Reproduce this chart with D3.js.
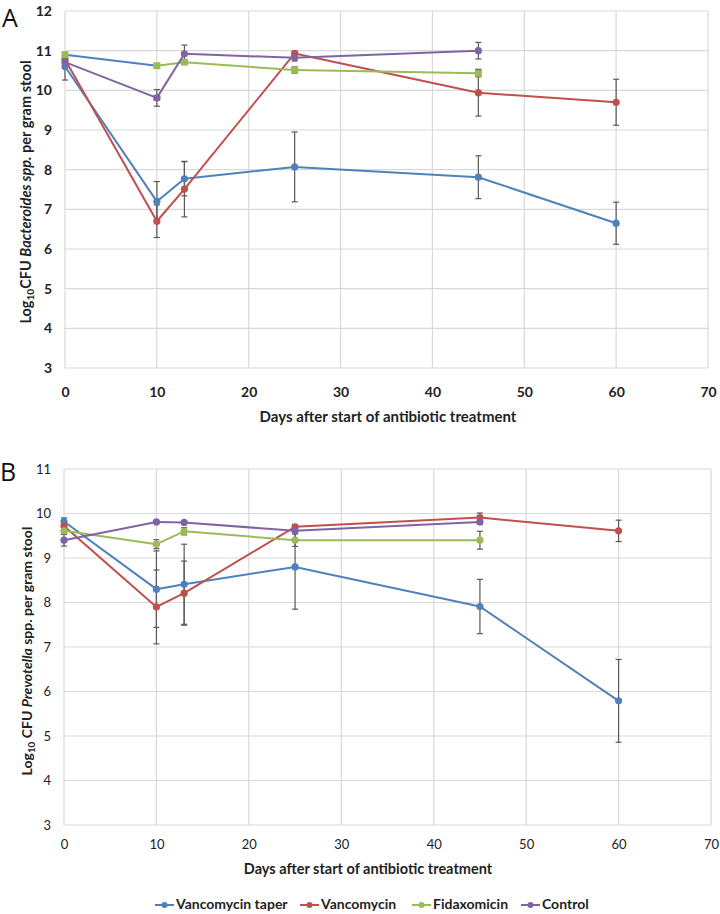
<!DOCTYPE html>
<html><head><meta charset="utf-8">
<script src="https://cdn.jsdelivr.net/npm/d3@7"></script>
<style>
html,body{margin:0;padding:0;background:#fff;}
svg{display:block;font-family:Lato,"Open Sans",sans-serif;}
</style></head>
<body><svg id="chart" width="720" height="914"></svg>
<script>
// ---- data ----
const days = [0, 10, 13, 25, 45, 60];
const seriesNames = ["Vancomycin taper", "Vancomycin", "Fidaxomicin", "Control"];
const seriesColors = ["#4f81bd", "#c0504d", "#9bbb59", "#8064a2"];
const xTicks = [0, 10, 20, 30, 40, 50, 60, 70];
const yTicksA = [3, 4, 5, 6, 7, 8, 9, 10, 11, 12];
const yTicksB = [3, 4, 5, 6, 7, 8, 9, 10, 11];

// Panel A: Bacteroides
const aTaperMean   = [10.6, 7.2, 7.77, 8.07, 7.81, 6.65];
const aTaperErr    = [0.34, 0.5, 0.43, 0.88, 0.54, 0.53];
const aVancoMean   = [10.78, 6.7, 7.51, 10.93, 9.94, 9.7];
const aVancoErr    = [0.05, 0.41, 0.7, 0.06, 0.59, 0.58];
const aFidaxoMean  = [10.9, 10.62, 10.71, 10.51, 10.43];
const aFidaxoErr   = [0.04, 0.05, 0.04, 0.08, 0.09];
const aControlMean = [10.71, 9.81, 10.92, 10.82, 11.0];
const aControlErr  = [0.05, 0.21, 0.22, 0.08, 0.21];
const aControlXErr = [0, 0.3, 0, 0, 0];
// first Fidaxomicin segment in panel A appears drawn in the taper colour
const aFidaxoSegColor = ["#4f81bd", null, null, null];

// Panel B: Prevotella
const bTaperMean   = [9.82, 8.3, 8.41, 8.8, 7.91, 5.79];
const bTaperErr    = [0.08, 0.86, 0.9, 0.95, 0.61, 0.93];
const bVancoMean   = [9.72, 7.9, 8.21, 9.7, 9.91, 9.61];
const bVancoErr    = [0.1, 0.83, 0.72, 0.05, 0.1, 0.24];
const bFidaxoMean  = [9.61, 9.31, 9.6, 9.4, 9.4];
const bFidaxoErr   = [0.05, 0.1, 0.08, 0.14, 0.2];
const bControlMean = [9.4, 9.81, 9.8, 9.61, 9.81];
const bControlErr  = [0.13, 0.03, 0.03, 0.05, 0.05];

// ---- drawing ----
const svg = d3.select("#chart");

function mk(mean, err, xerr, segColor) {
  return mean.map((v, i) => ({x: days[i], y: v, e: err[i] || 0, xe: xerr ? xerr[i] : 0, segColor: segColor ? segColor[i] : null}));
}

function panel(opt) {
  const x = d3.scaleLinear().domain([0, 70]).range([opt.x0, opt.x1]);
  const y = d3.scaleLinear().domain([opt.yMin, opt.yMax]).range([opt.yB, opt.yT]);
  const g = svg.append("g");
  const grid = "#d9d9d9";
  g.append("g").selectAll("line").data(opt.yTicks).join("line")
    .attr("x1", opt.x0).attr("x2", opt.x1)
    .attr("y1", d => y(d)).attr("y2", d => y(d))
    .attr("stroke", grid).attr("stroke-width", 1.2);
  g.append("g").selectAll("line").data(xTicks).join("line")
    .attr("x1", d => x(d)).attr("x2", d => x(d))
    .attr("y1", opt.yT).attr("y2", opt.yB)
    .attr("stroke", grid).attr("stroke-width", 1.2);
  const yAxis = d3.axisLeft(y).tickValues(opt.yTicks).tickSize(0).tickPadding(0).tickFormat(d3.format("d"));
  const ya = g.append("g").attr("transform", `translate(${opt.yLabX},0)`).call(yAxis);
  ya.select(".domain").remove();
  ya.selectAll("text").attr("font-family", "Lato, sans-serif").attr("font-size", opt.tickSize)
    .attr("font-weight", opt.tickWeight).attr("fill", "#222");
  const xAxis = d3.axisBottom(x).tickValues(xTicks).tickSize(0).tickPadding(0).tickFormat(d3.format("d"));
  const xa = g.append("g").attr("transform", `translate(0,${opt.xLabY})`).call(xAxis);
  xa.select(".domain").remove();
  xa.selectAll("text").attr("font-family", "Lato, sans-serif").attr("font-size", opt.tickSize)
    .attr("font-weight", opt.tickWeight).attr("fill", "#222").attr("dy", "0.35em");
  g.append("text").attr("x", opt.xTitleX).attr("y", opt.xTitleY).attr("text-anchor", "middle")
    .attr("dominant-baseline", "middle").attr("font-size", opt.xTitleSize).attr("font-weight", 700).attr("fill", "#222")
    .text("Days after start of antibiotic treatment");
  const yt = g.append("text").attr("transform", `translate(${opt.yTitleX},${opt.yTitleY}) rotate(-90)`)
    .attr("text-anchor", "middle").attr("dominant-baseline", "middle")
    .attr("font-size", opt.yTitleSize).attr("font-weight", 700).attr("fill", "#222");
  opt.yTitleParts.forEach(p => {
    const t = yt.append("tspan").text(p.t);
    if (p.sub) t.attr("font-size", opt.yTitleSize * 0.7).attr("dy", 4);
    if (p.after) t.attr("dy", -4);
    if (p.it) t.attr("font-style", "italic");
  });
  g.append("text").attr("x", opt.letterX).attr("y", opt.letterY).attr("font-size", 25)
    .attr("font-family", "Open Sans, sans-serif").attr("fill", "#111").text(opt.letter);

  const eg = g.append("g");
  opt.series.forEach(s => {
    s.data.forEach(d => {
      if (d.e > 0) {
        eg.append("line").attr("x1", x(d.x)).attr("x2", x(d.x)).attr("y1", y(d.y + d.e)).attr("y2", y(d.y - d.e))
          .attr("stroke", "#595959").attr("stroke-width", 1.2);
        [d.y + d.e, d.y - d.e].forEach(v => eg.append("line").attr("x1", x(d.x) - 3).attr("x2", x(d.x) + 3)
          .attr("y1", y(v)).attr("y2", y(v)).attr("stroke", "#595959").attr("stroke-width", 1.2));
      }
      if (d.xe > 0) {
        eg.append("line").attr("x1", x(d.x - d.xe)).attr("x2", x(d.x + d.xe)).attr("y1", y(d.y)).attr("y2", y(d.y))
          .attr("stroke", "#595959").attr("stroke-width", 1.2);
        [d.x - d.xe, d.x + d.xe].forEach(v => eg.append("line").attr("x1", x(v)).attr("x2", x(v))
          .attr("y1", y(d.y) - 3).attr("y2", y(d.y) + 3).attr("stroke", "#595959").attr("stroke-width", 1.2));
      }
    });
  });
  opt.series.forEach(s => {
    const sg = g.append("g");
    for (let i = 0; i < s.data.length - 1; i++) {
      const a = s.data[i], b = s.data[i + 1];
      sg.append("line").attr("x1", x(a.x)).attr("y1", y(a.y)).attr("x2", x(b.x)).attr("y2", y(b.y))
        .attr("stroke", a.segColor || s.color).attr("stroke-width", 2).attr("stroke-linecap", "round");
    }
    s.data.forEach(d => {
      if (s.square) {
        sg.append("rect").attr("x", x(d.x) - 3.5).attr("y", y(d.y) - 3.5).attr("width", 7).attr("height", 7).attr("fill", s.color);
      } else {
        sg.append("circle").attr("cx", x(d.x)).attr("cy", y(d.y)).attr("r", 3.6).attr("fill", s.color);
      }
    });
  });
}

panel({
  x0: 65, x1: 708, yT: 11, yB: 368, yMin: 3, yMax: 12, yTicks: yTicksA,
  yLabX: 52, xLabY: 392, tickSize: 14, tickWeight: 700, xTitleSize: 15, yTitleSize: 14.5,
  xTitleX: 388, xTitleY: 418, yTitleX: 27, yTitleY: 192,
  yTitleParts: [{t: "Log"}, {t: "10", sub: true}, {t: "CFU ", after: true}, {t: "Bacteroides spp.", it: true}, {t: " per gram stool"}],
  letter: "A", letterX: 2, letterY: 27,
  series: [
    {color: seriesColors[0], data: mk(aTaperMean, aTaperErr)},
    {color: seriesColors[1], data: mk(aVancoMean, aVancoErr)},
    {color: seriesColors[2], square: true, data: mk(aFidaxoMean, aFidaxoErr, null, aFidaxoSegColor)},
    {color: seriesColors[3], data: mk(aControlMean, aControlErr, aControlXErr)}
  ]
});

panel({
  x0: 64, x1: 711, yT: 469, yB: 825, yMin: 3, yMax: 11, yTicks: yTicksB,
  yLabX: 51, xLabY: 844, tickSize: 13, tickWeight: 400, xTitleSize: 14.5, yTitleSize: 14,
  xTitleX: 368, xTitleY: 870, yTitleX: 28, yTitleY: 651,
  yTitleParts: [{t: "Log"}, {t: "10", sub: true}, {t: " CFU ", after: true}, {t: "Prevotella", it: true}, {t: " spp. per gram stool"}],
  letter: "B", letterX: 0, letterY: 481,
  series: [
    {color: seriesColors[0], data: mk(bTaperMean, bTaperErr)},
    {color: seriesColors[1], data: mk(bVancoMean, bVancoErr)},
    {color: seriesColors[2], data: mk(bFidaxoMean, bFidaxoErr)},
    {color: seriesColors[3], data: mk(bControlMean, bControlErr)}
  ]
});

const legendX = [155, 300, 412, 521];
const lg = svg.append("g");
seriesNames.forEach((n, i) => {
  const gx = legendX[i], gy = 905;
  lg.append("line").attr("x1", gx).attr("x2", gx + 19).attr("y1", gy).attr("y2", gy)
    .attr("stroke", seriesColors[i]).attr("stroke-width", 2);
  lg.append("circle").attr("cx", gx + 9.5).attr("cy", gy).attr("r", 3).attr("fill", seriesColors[i]);
  lg.append("text").attr("x", gx + 21).attr("y", gy).attr("dominant-baseline", "middle")
    .attr("font-size", 14).attr("font-weight", 700).attr("fill", "#222").text(n);
});
</script></body></html>
